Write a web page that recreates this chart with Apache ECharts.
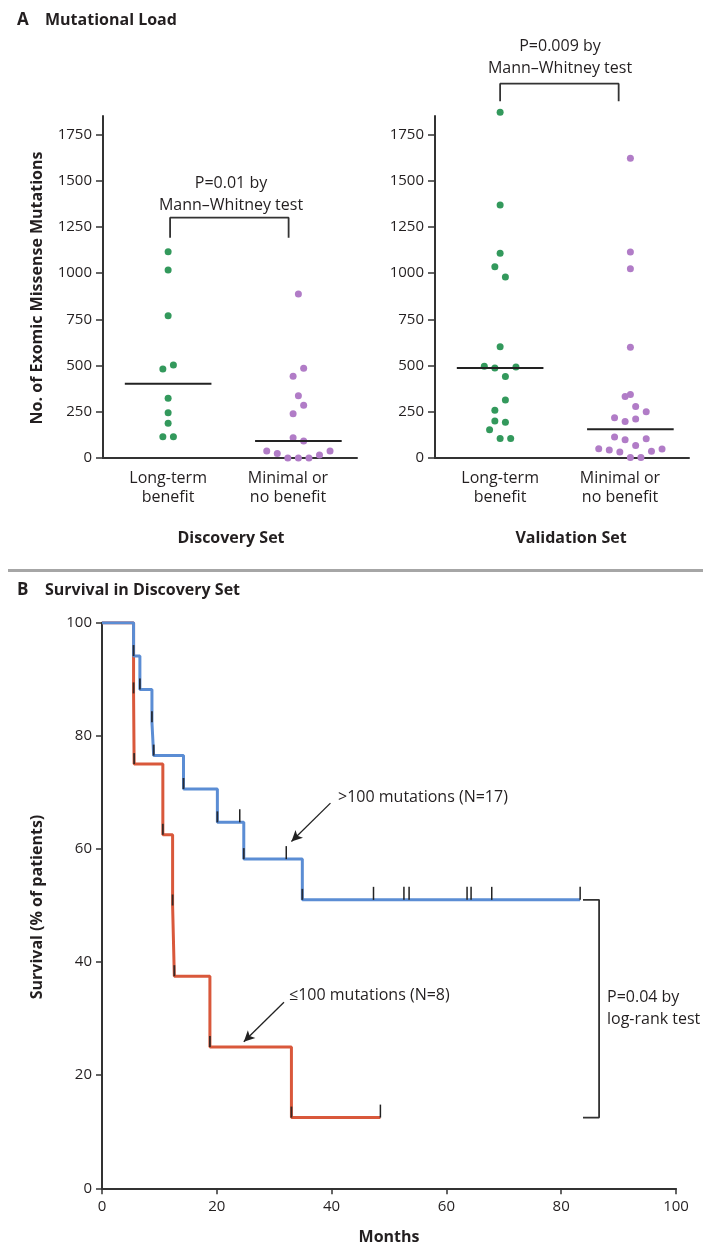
<!DOCTYPE html>
<html><head><meta charset="utf-8">
<script src="https://cdn.jsdelivr.net/npm/echarts@6/dist/echarts.min.js"></script>
<style>html,body{margin:0;padding:0;background:#fff}#c{width:703px;height:1247px}</style>
</head><body><div id="c"></div>
<script>
// ================= DATA =================
const categories = ['Long-term\nbenefit', 'Minimal or\nno benefit'];
const setNames = ['Discovery Set', 'Validation Set'];
const yTicksA = [0, 250, 500, 750, 1000, 1250, 1500, 1750];

// Discovery set: mutation counts and beeswarm slot (horizontal placement)
const discLTB     = [1116, 1017, 770, 503, 481, 323, 245, 188, 115, 115];
const discLTBSlot = [0, 0, 0, 1, -1, 0, 0, 0, -1, 1];
const discNDB     = [887, 485, 442, 337, 285, 240, 110, 92, 38, 25, 0, 0, 0, 16, 38];
const discNDBSlot = [0, 1, -1, 0, 1, -1, -1, 1, -6, -4, -2, 0, 2, 4, 6];
// Validation set
const valLTB      = [1870, 1369, 1107, 1035, 979, 602, 496, 487, 492, 441, 314, 258, 200, 193, 153, 106, 106];
const valLTBSlot  = [0, 0, 0, -1, 1, 0, -3, -1, 3, 1, 1, -1, -1, 1, -2, 0, 2];
const valNDB      = [1621, 1115, 1024, 599, 332, 344, 278, 250, 218, 198, 211, 114, 99, 104, 68, 50, 43, 32, 36, 49, 3, 3];
const valNDBSlot  = [0, 0, 0, 0, -1, 0, 1, 3, -3, -1, 1, -3, -1, 3, 1, -6, -4, -2, 4, 6, 0, 2];

const pDisc = 'P=0.01 by\nMann\u2013Whitney test';
const pVal  = 'P=0.009 by\nMann\u2013Whitney test';

// Survival (Kaplan-Meier) in discovery set
const xTicksB = [0, 20, 40, 60, 80, 100];
const yTicksB = [0, 20, 40, 60, 80, 100];
const highLabel = '>100 mutations (N=17)';
const highTimes = [0, 5.5, 6.6, 8.7, 9.0, 14.2, 20.1, 24.7, 34.9, 83.3];
const highSurv  = [100, 94.1, 88.2, 82.4, 76.5, 70.6, 64.7, 58.2, 51.0, 51.0];
const highCensor = [24.0, 32.1, 47.3, 52.6, 53.5, 63.6, 64.3, 67.9, 83.3];
const lowLabel = '\u2264100 mutations (N=8)';
const lowTimes = [0, 5.5, 5.6, 10.6, 12.3, 12.6, 18.8, 33.0, 48.5];
const lowSurv  = [100, 87.5, 75, 62.5, 50, 37.5, 25, 12.5, 12.5];
const lowCensor = [48.5];
const pLogRank = 'P=0.04 by\nlog-rank test';

// ================= STYLE / LAYOUT =================
const FONT = '"Open Sans", Lato, sans-serif';
const TXT = '#231f20';
const AX = '#333';
const GREEN = '#33995c', PURPLE = '#b17cc7';
const BLUE = '#5b8dd4', RED = '#d9583b';
const catPos = [1, 3];          // dot column centres (x-axis units)
const labelPos = [1, 2.84];     // category label centres
const SLOT = 0.081;             // x-units per beeswarm slot
const MED_HALF = 0.665;         // half width of median bar

function median(a) {
  const s = a.slice().sort((p, q) => p - q), n = s.length;
  return n % 2 ? s[(n - 1) / 2] : (s[n / 2 - 1] + s[n / 2]) / 2;
}
function dots(vals, slots, c) { return vals.map((v, i) => [catPos[c] + slots[i] * SLOT, v]); }
function survAt(times, surv, t) { let s = surv[0]; for (let i = 0; i < times.length; i++) if (times[i] <= t) s = surv[i]; return s; }

const chart = echarts.init(document.getElementById('c'), null, { renderer: 'canvas' });

function axisA(gi) {
  return {
    x: { gridIndex: gi, type: 'value', min: 0, max: 3.9,
      axisLine: { show: true, onZero: false, lineStyle: { color: AX, width: 2 } },
      axisTick: { show: false }, splitLine: { show: false },
      axisLabel: { customValues: labelPos, margin: 11, fontFamily: FONT, fontSize: 16, color: TXT, lineHeight: 19,
        formatter: v => categories[v < 2 ? 0 : 1] } },
    y: { gridIndex: gi, type: 'value', min: 0, max: 1850,
      axisLine: { show: true, onZero: false, lineStyle: { color: AX, width: 2 } },
      axisTick: { show: true, customValues: yTicksA, length: 7, lineStyle: { color: AX, width: 1.5 } },
      axisLabel: { customValues: yTicksA, margin: 11, fontFamily: FONT, fontSize: 15, color: TXT,
        formatter: v => String(v) },
      splitLine: { show: false } }
  };
}
const a0 = axisA(0), a1 = axisA(1);

function scatter(gi, data, color) {
  return { type: 'scatter', xAxisIndex: gi, yAxisIndex: gi, data, symbolSize: 7, z: 2,
    itemStyle: { color, opacity: 1 }, silent: true, clip: false };
}
function medLine(gi, vals, c) {
  const m = median(vals);
  return { type: 'line', xAxisIndex: gi, yAxisIndex: gi, data: [[catPos[c] - MED_HALF, m], [catPos[c] + MED_HALF, m]],
    symbol: 'none', lineStyle: { color: '#222', width: 2 }, z: 4, silent: true };
}
function bracket(gi, x1, x2, yTop, drop) {
  return { type: 'line', xAxisIndex: gi, yAxisIndex: gi, clip: false,
    data: [[x1, yTop - drop], [x1, yTop], [x2, yTop], [x2, yTop - drop]],
    symbol: 'none', lineStyle: { color: AX, width: 1.8 }, z: 4, silent: true };
}
function tickSeries(points, color, width, len, z) {
  return { type: 'custom', xAxisIndex: 2, yAxisIndex: 2, data: points, z, silent: true, clip: false,
    renderItem: (params, api) => {
      const p = api.coord([api.value(0), api.value(1)]);
      return { type: 'line', shape: { x1: p[0], y1: p[1], x2: p[0], y2: p[1] - len },
        style: { stroke: color, lineWidth: width } };
    } };
}
function eventPts(times, surv) {
  const r = []; for (let i = 1; i < times.length; i++) if (surv[i] < surv[i - 1]) r.push([times[i], surv[i]]); return r;
}

const txt = (text, x, y, opt = {}) => ({ type: 'text', x, y, rotation: opt.rot || 0, silent: true,
  style: { text, fill: TXT, font: (opt.bold ? 'bold ' : '') + (opt.size || 16) + 'px ' + FONT,
    align: opt.align || 'center', verticalAlign: 'middle', lineHeight: opt.lh || 22 } });

const option = {
  animation: false,
  backgroundColor: '#fff',
  grid: [
    { left: 103, top: 116, width: 254, height: 342, outerBoundsMode: 'none' },
    { left: 435, top: 116, width: 254, height: 342, outerBoundsMode: 'none' },
    { left: 102, top: 622.7, width: 574, height: 565.6, outerBoundsMode: 'none' }
  ],
  xAxis: [a0.x, a1.x, {
    gridIndex: 2, type: 'value', min: 0, max: 100, interval: 20,
    axisLine: { show: true, onZero: false, lineStyle: { color: AX, width: 2 } },
    axisTick: { show: true, length: 6, lineStyle: { color: AX, width: 1.5 } },
    axisLabel: { margin: 11, fontFamily: FONT, fontSize: 15, color: TXT },
    splitLine: { show: false } }],
  yAxis: [a0.y, a1.y, {
    gridIndex: 2, type: 'value', min: 0, max: 100, interval: 20,
    axisLine: { show: true, onZero: false, lineStyle: { color: AX, width: 2 } },
    axisTick: { show: true, length: 6, lineStyle: { color: AX, width: 1.5 } },
    axisLabel: { margin: 10, fontFamily: FONT, fontSize: 15, color: TXT },
    splitLine: { show: false } }],
  series: [
    scatter(0, dots(discLTB, discLTBSlot, 0), GREEN),
    scatter(0, dots(discNDB, discNDBSlot, 1), PURPLE),
    scatter(1, dots(valLTB, valLTBSlot, 0), GREEN),
    scatter(1, dots(valNDB, valNDBSlot, 1), PURPLE),
    medLine(0, discLTB, 0), medLine(0, discNDB, 1),
    medLine(1, valLTB, 0), medLine(1, valNDB, 1),
    bracket(0, 1.03, 2.85, 1300, 108),
    bracket(1, 1.0, 2.82, 2025, 95),
    { type: 'line', xAxisIndex: 2, yAxisIndex: 2, step: 'end', symbol: 'none', z: 2, silent: true,
      data: lowTimes.map((t, i) => [t, lowSurv[i]]), lineStyle: { color: RED, width: 3 },
      markLine: { silent: true, symbol: ['none', 'arrow'], symbolSize: [8, 11], label: { show: false },
        lineStyle: { color: '#222', width: 1.3, type: 'solid' },
        data: [[{ coord: [31.7, 32.9] }, { coord: [24.7, 25.9] }]] } },
    { type: 'line', xAxisIndex: 2, yAxisIndex: 2, step: 'end', symbol: 'none', z: 3, silent: true,
      data: highTimes.map((t, i) => [t, highSurv[i]]), lineStyle: { color: BLUE, width: 3 },
      markLine: { silent: true, symbol: ['none', 'arrow'], symbolSize: [8, 11], label: { show: false },
        lineStyle: { color: '#222', width: 1.3, type: 'solid' },
        data: [[{ coord: [39.8, 68.1] }, { coord: [33.0, 61.3] }]] } },
    tickSeries(eventPts(lowTimes, lowSurv), '#3a2a26', 1.8, 11, 6),
    tickSeries(eventPts(highTimes, highSurv), '#262c38', 1.8, 11, 6),
    tickSeries(highCensor.map(t => [t, survAt(highTimes, highSurv, t)]), '#222', 1.5, 13, 7),
    tickSeries(lowCensor.map(t => [t, survAt(lowTimes, lowSurv, t)]), '#222', 1.5, 13, 7),
    { type: 'line', xAxisIndex: 2, yAxisIndex: 2, clip: false, symbol: 'none', z: 4, silent: true,
      data: [[83.8, highSurv[highSurv.length - 1]], [86.6, highSurv[highSurv.length - 1]],
             [86.6, lowSurv[lowSurv.length - 1]], [83.8, lowSurv[lowSurv.length - 1]]],
      lineStyle: { color: AX, width: 1.8 } }
  ],
  graphic: [
    txt('A', 17, 20, { bold: true, size: 17, align: 'left' }),
    txt('Mutational Load', 45, 20, { bold: true, size: 16, align: 'left' }),
    txt('No. of Exomic Missense Mutations', 37, 288, { bold: true, size: 16, rot: Math.PI / 2 }),
    txt(pDisc, 231, 194, {}),
    txt(pVal, 560, 57, {}),
    txt(setNames[0], 231, 538, { bold: true }),
    txt(setNames[1], 571, 538, { bold: true }),
    { type: 'rect', shape: { x: 8, y: 569, width: 695, height: 3 }, style: { fill: '#a6a6a6' }, silent: true },
    txt('B', 17, 590, { bold: true, size: 17, align: 'left' }),
    txt('Survival in Discovery Set', 45, 590, { bold: true, align: 'left' }),
    txt('Survival (% of patients)', 37, 907, { bold: true, rot: Math.PI / 2 }),
    txt('Months', 389, 1237, { bold: true }),
    txt(highLabel, 338, 797, { align: 'left' }),
    txt(lowLabel, 289, 995, { align: 'left' }),
    txt(pLogRank, 607, 1008, { align: 'left' })
  ]
};
chart.setOption(option);
</script></body></html>
